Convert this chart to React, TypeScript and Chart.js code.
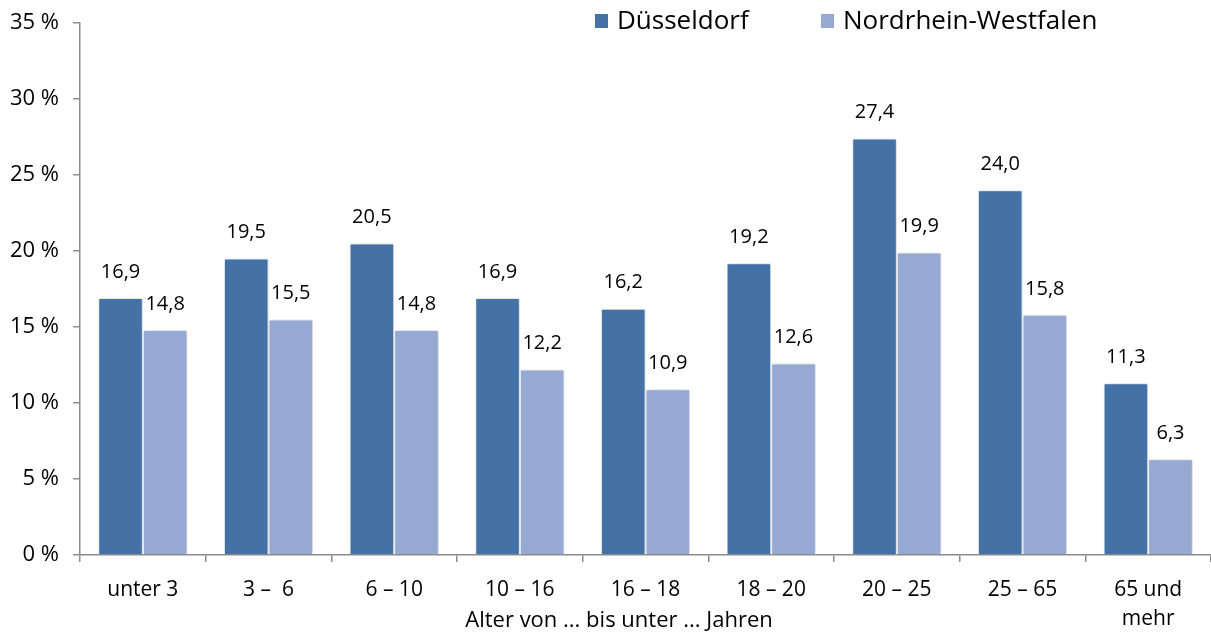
import React, { useEffect, useRef } from "react";
import { Chart, registerables } from "chart.js";

Chart.register(...registerables);

const categories: (string | string[])[] = [
  "unter 3",
  "3 –  6",
  "6 – 10",
  "10 – 16",
  "16 – 18",
  "18 – 20",
  "20 – 25",
  "25 – 65",
  ["65 und", "mehr"],
];
const duesseldorf = [16.9, 19.5, 20.5, 16.9, 16.2, 19.2, 27.4, 24.0, 11.3];
const nrw = [14.8, 15.5, 14.8, 12.2, 10.9, 12.6, 19.9, 15.8, 6.3];
const seriesNames = ["Düsseldorf", "Nordrhein-Westfalen"];
const colors = ["#4472A7", "#95A9D2"];
const axisTitle = "Alter von ... bis unter ... Jahren";

const FONT = "'Open Sans', sans-serif";

const shadowPlugin = {
  id: "barShadow",
  beforeDatasetsDraw(chart: any) {
    const ctx = chart.ctx;
    ctx.save();
    ctx.shadowColor = "rgba(0,0,0,0.22)";
    ctx.shadowBlur = 4;
    ctx.shadowOffsetX = 1;
    ctx.shadowOffsetY = 0;
  },
  afterDatasetsDraw(chart: any) {
    chart.ctx.restore();
  },
};

const labelPlugin = {
  id: "valueLabels",
  afterDatasetsDraw(chart: any) {
    const ctx = chart.ctx;
    ctx.save();
    ctx.font = `20px ${FONT}`;
    ctx.fillStyle = "#000";
    ctx.textAlign = "center";
    ctx.textBaseline = "middle";
    chart.data.datasets.forEach((ds: any, i: number) => {
      const meta = chart.getDatasetMeta(i);
      meta.data.forEach((bar: any, j: number) => {
        const v = ds.data[j] as number;
        ctx.fillText(v.toFixed(1).replace(".", ","), bar.x, bar.y - 26);
      });
    });
    ctx.restore();
  },
};

const legendPlugin = {
  id: "customLegend",
  afterDraw(chart: any) {
    const ctx = chart.ctx;
    ctx.save();
    ctx.font = `26px ${FONT}`;
    ctx.textBaseline = "middle";
    ctx.textAlign = "left";
    const items = [
      { x: 595, label: seriesNames[0], color: colors[0] },
      { x: 821, label: seriesNames[1], color: colors[1] },
    ];
    const y = 21;
    items.forEach((it) => {
      ctx.fillStyle = it.color;
      ctx.fillRect(it.x, y - 7, 13, 14);
      ctx.fillStyle = "#000";
      ctx.fillText(it.label, it.x + 22, y + 1);
    });
    // axis title
    ctx.font = `22px ${FONT}`;
    ctx.textAlign = "center";
    ctx.fillText(axisTitle, 619, 621);
    ctx.restore();
  },
};

export default function App() {
  const ref = useRef<HTMLCanvasElement>(null);
  useEffect(() => {
    document.body.style.margin = "0";
    const chart = new Chart(ref.current!, {
      type: "bar",
      data: {
        labels: categories,
        datasets: [
          {
            label: seriesNames[0],
            data: duesseldorf,
            backgroundColor: colors[0],
            borderColor: "#ffffff",
            borderWidth: 1,
            categoryPercentage: 0.71,
            barPercentage: 1.0,
          },
          {
            label: seriesNames[1],
            data: nrw,
            backgroundColor: colors[1],
            borderColor: "#ffffff",
            borderWidth: 1,
            categoryPercentage: 0.71,
            barPercentage: 1.0,
          },
        ],
      },
      options: {
        animation: false,
        responsive: false,
        layout: { padding: { top: 0, right: 0, left: 0, bottom: 0 } },
        plugins: {
          legend: { display: false },
          tooltip: { enabled: false },
        },
        scales: {
          x: {
            offset: true,
            grid: {
              offset: true,
              drawOnChartArea: false,
              drawTicks: true,
              tickLength: 7,
              color: "#8c8c8c",
              lineWidth: 1.5,
            },
            border: { color: "#8c8c8c", width: 1.5 },
            ticks: {
              color: "#000",
              font: { family: FONT, size: 21, lineHeight: 1.35 },
              padding: 14,
              maxRotation: 0,
              autoSkip: false,
            },
            afterFit(scale: any) {
              scale.height = 80;
            },
          },
          y: {
            min: 0,
            max: 35,
            ticks: {
              stepSize: 5,
              color: "#000",
              font: { family: FONT, size: 22, lineHeight: 1.0 },
              padding: 14,
              callback: (v: any) => `${v} %`,
            },
            grid: {
              drawOnChartArea: false,
              drawTicks: true,
              tickLength: 7,
              color: "#8c8c8c",
              lineWidth: 1.5,
            },
            border: { color: "#8c8c8c", width: 1.5 },
            afterFit(scale: any) {
              scale.width = 80;
              scale.paddingTop = 23;
            },
          },
        },
      },
      plugins: [shadowPlugin, labelPlugin, legendPlugin],
    });
    return () => chart.destroy();
  }, []);
  return (
    <div style={{ width: 1211, height: 635 }}>
      <canvas ref={ref} width={1211} height={635} />
    </div>
  );
}
